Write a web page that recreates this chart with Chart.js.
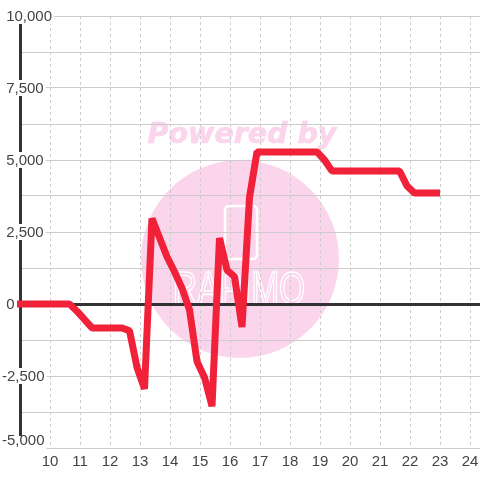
<!DOCTYPE html>
<html><head><meta charset="utf-8">
<script src="https://cdn.jsdelivr.net/npm/chart.js@4"></script>
<style>html,body{margin:0;padding:0;background:#fff}#w{width:480px;height:480px}</style>
</head><body><div id="w"><canvas id="c" width="480" height="480"></canvas></div>
<script>
const hours = [8.9,10.65,10.9,11.4,12.4,12.65,12.9,13.15,13.4,13.9,14.15,14.4,14.65,14.9,15.15,15.4,15.65,15.9,16.15,16.4,16.65,16.9,18.9,19.15,19.4,21.65,21.9,22.15,23];
const values = [0,0,-250,-830,-830,-930,-2200,-2950,2970,1640,1120,550,-200,-2000,-2550,-3550,2290,1180,950,-800,3700,5280,5280,5000,4620,4620,4100,3850,3850];
const yTickValues = [-5000,-2500,0,2500,5000,7500,10000];
const yTickLabels = ['-5,000','-2,500','0','2,500','5,000','7,500','10,000'];
const xTickLabels = ['10','11','12','13','14','15','16','17','18','19','20','21','22','23','24'];
const watermarkTitle = 'Powered by';
const watermarkName = 'RAPIMO';
const FONT = '"Liberation Sans", Arial, sans-serif';
const pink = '#fbd5ec';

const watermark = {
  id:'watermark',
  beforeDraw(chart){
    const g = chart.ctx; g.save();
    g.fillStyle = pink; g.strokeStyle = pink;
    g.beginPath(); g.arc(240,259,99,0,Math.PI*2); g.fill();
    g.font = 'italic bold 28.5px "DejaVu Sans", sans-serif';
    g.textAlign='center'; g.textBaseline='middle';
    g.lineWidth=0.7;
    g.fillText(watermarkTitle,242,136);
    g.strokeText(watermarkTitle,242,136);
    g.strokeStyle='#fff'; g.lineWidth=2.5;
    g.beginPath(); g.roundRect(225,206,32,53,4); g.stroke();
    g.save(); g.translate(239,291); g.scale(0.73,1);
    g.font='46px "Liberation Sans", sans-serif';
    g.lineWidth=1.6;
    g.strokeText(watermarkName,0,0);
    g.restore();
    g.restore();
  }
};

function nudgeLabels(s){
  const base = s.getLabelItems.bind(s);
  s.getLabelItems = a => {
    const items = base(a);
    items.forEach(it => {
      if (it.nudged) return;
      it.nudged = true;
      it.textOffset += 1;
      const b = it.options.backdrop;
      if (b && it.label) { b.top -= 1; b.height += 2; }
      if (it.label === yTickLabels[0]) {
        it.textOffset = -7;
        if (b) { b.top = -12; b.height = 15; }
      }
    });
    return items;
  };
}

new Chart(document.getElementById('c'),{
  type:'line',
  data:{datasets:[{
    data:hours.map((h,i)=>({x:h,y:values[i]})),
    borderColor:'#f02138',borderWidth:7,pointRadius:0,tension:0,clip:false,
    borderJoinStyle:'bevel',borderCapStyle:'butt'
  }]},
  plugins:[watermark],
  options:{
    responsive:false,animation:false,devicePixelRatio:1,
    layout:{padding:{top:16,left:2,right:0,bottom:0}},
    plugins:{legend:{display:false},tooltip:{enabled:false}},
    scales:{
      x:{type:'linear',min:9,max:24+1/3,
        afterBuildTicks(s){s.ticks=xTickLabels.map(l=>({value:+l}));},
        afterFit(s){s.height=32;s.paddingRight=0;s.paddingLeft=0;},
        grid:{color:'#cccccc',lineWidth:1,tickLength:0,drawTicks:false},
        border:{display:false,dash:[3,3]},
        ticks:{autoSkip:false,maxRotation:0,minRotation:0,padding:5,color:'#444',
          font:{family:FONT,size:15},
          callback:v=>String(v)}
      },
      y:{type:'linear',min:-5000,max:10000,
        afterBuildTicks(s){const t=[];for(let v=-5000;v<=10000;v+=1250)t.push({value:v});s.ticks=t;},
        afterFit(s){s.width=18;s.paddingTop=0;s.paddingBottom=0;},
        afterUpdate:nudgeLabels,
        grid:{drawTicks:false,tickLength:0,
          color:c=>c.tick&&c.tick.value===0?'#333333':'#cccccc',
          lineWidth:c=>c.tick&&c.tick.value===0?3:1},
        border:{display:true,color:'#333333',width:3},
        ticks:{autoSkip:false,mirror:true,crossAlign:'near',padding:-18,color:'#444',
          font:{family:FONT,size:15,lineHeight:'14px'},
          showLabelBackdrop:true,backdropColor:'#ffffff',backdropPadding:{top:0,bottom:0,left:0,right:2},
          callback(v){const i=yTickValues.indexOf(v);if(i<0)return '';
            return (v<0?'':' ')+yTickLabels[i];}
        }
      }
    }
  }
});
</script></body></html>
